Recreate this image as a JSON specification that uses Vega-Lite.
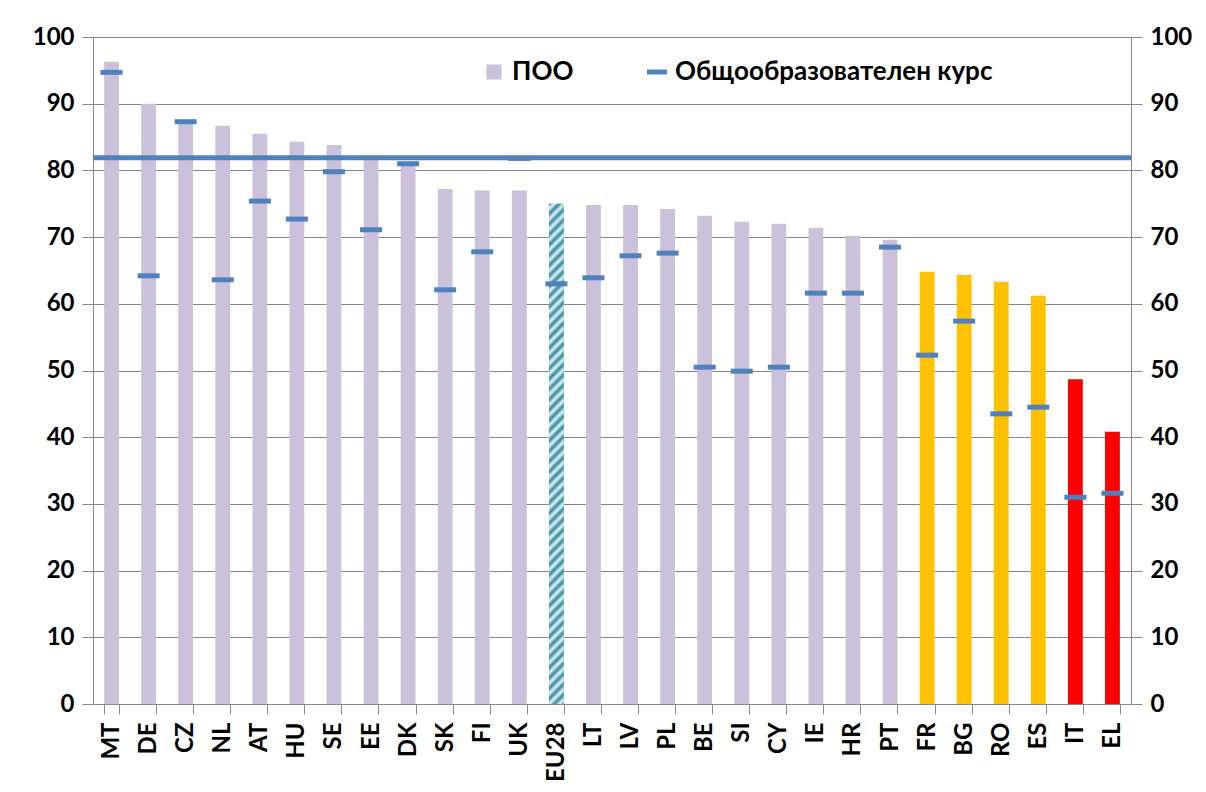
{
  "$schema": "https://vega.github.io/schema/vega-lite/v6.json",
  "width": 1038,
  "height": 667,
  "autosize": {"type": "none"},
  "padding": {"left": 93, "top": 37, "right": 75, "bottom": 88},
  "background": "white",
  "config": {
    "font": "Lato",
    "view": {"stroke": null},
    "tick": {"opacity": 1},
    "axis": {"labelFont": "Lato", "labelFontWeight": "bold", "labelFontSize": 24, "labelColor": "#000000", "domainColor": "#868686", "tickColor": "#868686", "gridColor": "#868686", "title": null}
  },
  "data": {"values": [
    {"c": "MT", "poo": 96.3, "gen": 94.7, "grp": "ПОО"},
    {"c": "DE", "poo": 90.0, "gen": 64.2, "grp": "ПОО"},
    {"c": "CZ", "poo": 87.4, "gen": 87.3, "grp": "ПОО"},
    {"c": "NL", "poo": 86.7, "gen": 63.6, "grp": "ПОО"},
    {"c": "AT", "poo": 85.5, "gen": 75.4, "grp": "ПОО"},
    {"c": "HU", "poo": 84.3, "gen": 72.7, "grp": "ПОО"},
    {"c": "SE", "poo": 83.8, "gen": 79.8, "grp": "ПОО"},
    {"c": "EE", "poo": 82.2, "gen": 71.1, "grp": "ПОО"},
    {"c": "DK", "poo": 81.0, "gen": 81.0, "grp": "ПОО"},
    {"c": "SK", "poo": 77.2, "gen": 62.1, "grp": "ПОО"},
    {"c": "FI", "poo": 77.0, "gen": 67.8, "grp": "ПОО"},
    {"c": "UK", "poo": 77.0, "gen": 81.8, "grp": "ПОО"},
    {"c": "EU28", "poo": 75.0, "gen": 63.0, "grp": "EU28"},
    {"c": "LT", "poo": 74.8, "gen": 63.9, "grp": "ПОО"},
    {"c": "LV", "poo": 74.8, "gen": 67.2, "grp": "ПОО"},
    {"c": "PL", "poo": 74.2, "gen": 67.6, "grp": "ПОО"},
    {"c": "BE", "poo": 73.2, "gen": 50.5, "grp": "ПОО"},
    {"c": "SI", "poo": 72.3, "gen": 49.9, "grp": "ПОО"},
    {"c": "CY", "poo": 72.0, "gen": 50.5, "grp": "ПОО"},
    {"c": "IE", "poo": 71.4, "gen": 61.6, "grp": "ПОО"},
    {"c": "HR", "poo": 70.2, "gen": 61.6, "grp": "ПОО"},
    {"c": "PT", "poo": 69.6, "gen": 68.5, "grp": "ПОО"},
    {"c": "FR", "poo": 64.8, "gen": 52.3, "grp": "Y"},
    {"c": "BG", "poo": 64.3, "gen": 57.4, "grp": "Y"},
    {"c": "RO", "poo": 63.3, "gen": 43.5, "grp": "Y"},
    {"c": "ES", "poo": 61.2, "gen": 44.5, "grp": "Y"},
    {"c": "IT", "poo": 48.7, "gen": 31.0, "grp": "R"},
    {"c": "EL", "poo": 40.8, "gen": 31.6, "grp": "R"}
  ]},
  "layer": [
    {
      "mark": {"type": "bar"},
      "encoding": {
        "x": {"field": "c", "type": "nominal", "sort": null,
              "scale": {"paddingInner": 0.6, "paddingOuter": 0.3},
              "axis": {"labelAngle": -90, "labelPadding": 8, "tickBand": "extent", "tickSize": 10, "grid": false}},
        "y": {"field": "poo", "type": "quantitative", "scale": {"domain": [0, 100], "nice": false},
              "axis": {"orient": "left", "values": [0,10,20,30,40,50,60,70,80,90,100], "tickSize": 11, "labelPadding": 8, "grid": true}},
        "color": {"field": "grp", "type": "nominal",
                  "scale": {"domain": ["ПОО", "Общообразователен курс", "Y", "R", "EU28"], "range": ["#CCC1DA", "#4F81BD", "#FFC000", "#FF0000", "#7DB5C3"]},
                  "legend": {"values": ["ПОО", "Общообразователен курс"], "title": null, "orient": "none", "direction": "horizontal",
                             "legendX": 388, "legendY": 22, "labelFont": "Lato", "labelFontWeight": "bold", "labelFontSize": 26, "labelColor": "#000000",
                             "labelLimit": 0, "labelOffset": 5, "columnPadding": 63, "symbolSize": 225,
                             "encode": {"symbols": {"update": {
                               "shape": {"signal": "datum.value === 'ПОО' ? 'square' : 'stroke'"},
                               "fill": {"signal": "datum.value === 'ПОО' ? '#CCC1DA' : 'transparent'"},
                               "stroke": {"signal": "datum.value === 'ПОО' ? 'transparent' : '#4F81BD'"},
                               "strokeWidth": {"signal": "datum.value === 'ПОО' ? 0 : 5"},
                               "size": {"signal": "datum.value === 'ПОО' ? 225 : 400"}
                             }}}}}
      }
    },
    {
      "transform": [{"filter": "datum.grp === 'EU28'"}],
      "mark": {"type": "bar", "color": {"gradient": "linear", "x1": 0, "y1": 0, "x2": 0.0305, "y2": 1.03, "stops": [
        {"offset": 0.00, "color": "#2E8AA0"}, {"offset": 0.01, "color": "#E8F3F6"},
        {"offset": 0.02, "color": "#2E8AA0"}, {"offset": 0.03, "color": "#E8F3F6"},
        {"offset": 0.04, "color": "#2E8AA0"}, {"offset": 0.05, "color": "#E8F3F6"},
        {"offset": 0.06, "color": "#2E8AA0"}, {"offset": 0.07, "color": "#E8F3F6"},
        {"offset": 0.08, "color": "#2E8AA0"}, {"offset": 0.09, "color": "#E8F3F6"},
        {"offset": 0.10, "color": "#2E8AA0"}, {"offset": 0.11, "color": "#E8F3F6"},
        {"offset": 0.12, "color": "#2E8AA0"}, {"offset": 0.13, "color": "#E8F3F6"},
        {"offset": 0.14, "color": "#2E8AA0"}, {"offset": 0.15, "color": "#E8F3F6"},
        {"offset": 0.16, "color": "#2E8AA0"}, {"offset": 0.17, "color": "#E8F3F6"},
        {"offset": 0.18, "color": "#2E8AA0"}, {"offset": 0.19, "color": "#E8F3F6"},
        {"offset": 0.20, "color": "#2E8AA0"}, {"offset": 0.21, "color": "#E8F3F6"},
        {"offset": 0.22, "color": "#2E8AA0"}, {"offset": 0.23, "color": "#E8F3F6"},
        {"offset": 0.24, "color": "#2E8AA0"}, {"offset": 0.25, "color": "#E8F3F6"},
        {"offset": 0.26, "color": "#2E8AA0"}, {"offset": 0.27, "color": "#E8F3F6"},
        {"offset": 0.28, "color": "#2E8AA0"}, {"offset": 0.29, "color": "#E8F3F6"},
        {"offset": 0.30, "color": "#2E8AA0"}, {"offset": 0.31, "color": "#E8F3F6"},
        {"offset": 0.32, "color": "#2E8AA0"}, {"offset": 0.33, "color": "#E8F3F6"},
        {"offset": 0.34, "color": "#2E8AA0"}, {"offset": 0.35, "color": "#E8F3F6"},
        {"offset": 0.36, "color": "#2E8AA0"}, {"offset": 0.37, "color": "#E8F3F6"},
        {"offset": 0.38, "color": "#2E8AA0"}, {"offset": 0.39, "color": "#E8F3F6"},
        {"offset": 0.40, "color": "#2E8AA0"}, {"offset": 0.41, "color": "#E8F3F6"},
        {"offset": 0.42, "color": "#2E8AA0"}, {"offset": 0.43, "color": "#E8F3F6"},
        {"offset": 0.44, "color": "#2E8AA0"}, {"offset": 0.45, "color": "#E8F3F6"},
        {"offset": 0.46, "color": "#2E8AA0"}, {"offset": 0.47, "color": "#E8F3F6"},
        {"offset": 0.48, "color": "#2E8AA0"}, {"offset": 0.49, "color": "#E8F3F6"},
        {"offset": 0.50, "color": "#2E8AA0"}, {"offset": 0.51, "color": "#E8F3F6"},
        {"offset": 0.52, "color": "#2E8AA0"}, {"offset": 0.53, "color": "#E8F3F6"},
        {"offset": 0.54, "color": "#2E8AA0"}, {"offset": 0.55, "color": "#E8F3F6"},
        {"offset": 0.56, "color": "#2E8AA0"}, {"offset": 0.57, "color": "#E8F3F6"},
        {"offset": 0.58, "color": "#2E8AA0"}, {"offset": 0.59, "color": "#E8F3F6"},
        {"offset": 0.60, "color": "#2E8AA0"}, {"offset": 0.61, "color": "#E8F3F6"},
        {"offset": 0.62, "color": "#2E8AA0"}, {"offset": 0.63, "color": "#E8F3F6"},
        {"offset": 0.64, "color": "#2E8AA0"}, {"offset": 0.65, "color": "#E8F3F6"},
        {"offset": 0.66, "color": "#2E8AA0"}, {"offset": 0.67, "color": "#E8F3F6"},
        {"offset": 0.68, "color": "#2E8AA0"}, {"offset": 0.69, "color": "#E8F3F6"},
        {"offset": 0.70, "color": "#2E8AA0"}, {"offset": 0.71, "color": "#E8F3F6"},
        {"offset": 0.72, "color": "#2E8AA0"}, {"offset": 0.73, "color": "#E8F3F6"},
        {"offset": 0.74, "color": "#2E8AA0"}, {"offset": 0.75, "color": "#E8F3F6"},
        {"offset": 0.76, "color": "#2E8AA0"}, {"offset": 0.77, "color": "#E8F3F6"},
        {"offset": 0.78, "color": "#2E8AA0"}, {"offset": 0.79, "color": "#E8F3F6"},
        {"offset": 0.80, "color": "#2E8AA0"}, {"offset": 0.81, "color": "#E8F3F6"},
        {"offset": 0.82, "color": "#2E8AA0"}, {"offset": 0.83, "color": "#E8F3F6"},
        {"offset": 0.84, "color": "#2E8AA0"}, {"offset": 0.85, "color": "#E8F3F6"},
        {"offset": 0.86, "color": "#2E8AA0"}, {"offset": 0.87, "color": "#E8F3F6"},
        {"offset": 0.88, "color": "#2E8AA0"}, {"offset": 0.89, "color": "#E8F3F6"},
        {"offset": 0.90, "color": "#2E8AA0"}, {"offset": 0.91, "color": "#E8F3F6"},
        {"offset": 0.92, "color": "#2E8AA0"}, {"offset": 0.93, "color": "#E8F3F6"},
        {"offset": 0.94, "color": "#2E8AA0"}, {"offset": 0.95, "color": "#E8F3F6"},
        {"offset": 0.96, "color": "#2E8AA0"}, {"offset": 0.97, "color": "#E8F3F6"},
        {"offset": 0.98, "color": "#2E8AA0"}, {"offset": 0.99, "color": "#E8F3F6"},
        {"offset": 1.00, "color": "#2E8AA0"}
      ]}},
      "encoding": {
        "x": {"field": "c", "type": "nominal", "sort": null},
        "y": {"field": "poo", "type": "quantitative", "axis": null}
      }
    },
    {
      "mark": {"type": "tick", "thickness": 5, "size": 22},
      "encoding": {
        "x": {"field": "c", "type": "nominal", "sort": null},
        "y": {"field": "gen", "type": "quantitative",
              "axis": {"orient": "right", "values": [0,10,20,30,40,50,60,70,80,90,100], "tickSize": 11, "labelPadding": 8, "grid": false}},
        "color": {"datum": "Общообразователен курс", "type": "nominal"}
      }
    },
    {
      "data": {"values": [{"v": 81.9}]},
      "mark": {"type": "rule", "strokeWidth": 5, "color": "#4F81BD"},
      "encoding": {"y": {"field": "v", "type": "quantitative", "axis": null}}
    }
  ],
  "resolve": {"axis": {"y": "independent"}}
}
